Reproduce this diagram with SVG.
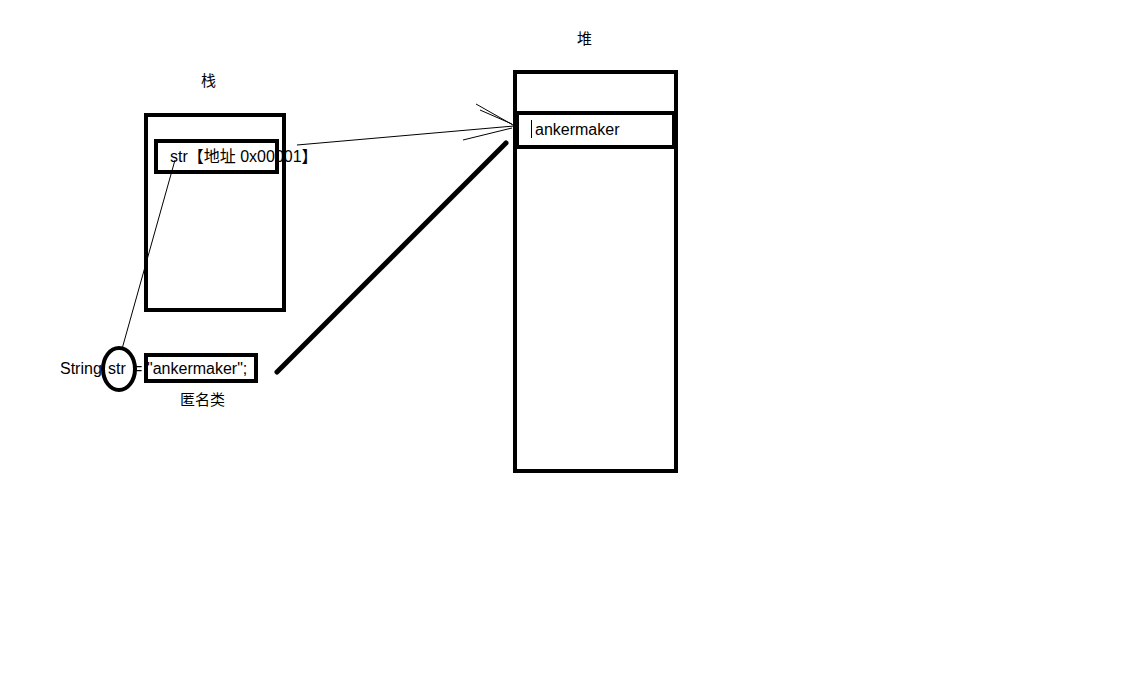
<svg xmlns="http://www.w3.org/2000/svg" width="1124" height="683" viewBox="0 0 1124 683">
<style>
.box{fill:none;stroke:#000;stroke-width:4}
.t{font-family:"Liberation Sans","Noto Sans CJK SC",sans-serif;font-size:15px;fill:#000}
.c{font-size:16px}
.thin{stroke:#000;stroke-width:1;fill:none}
</style>
<rect width="1124" height="683" fill="#fff"/>
<g id="stack-label"><text class="t" x="201" y="86">栈</text></g>
<g id="heap-label"><text class="t" x="577" y="44">堆</text></g>
<g id="stack">
<rect class="box" x="146" y="115" width="138" height="195"/>
</g>
<g id="stack-var">
<rect class="box" x="156" y="141" width="121" height="31"/>
<text class="t c" x="170" y="162">str【地址 0x00001】</text>
</g>
<g id="heap">
<rect class="box" x="515" y="72" width="161" height="399"/>
</g>
<g id="heap-obj">
<rect class="box" x="517" y="113" width="157" height="34"/>
<line x1="531.5" y1="120" x2="531.5" y2="138" stroke="#000" stroke-width="1"/>
<text class="t c" x="535" y="135">ankermaker</text>
</g>
<g id="code">
<text class="t c" x="60" y="374">String</text>
<text class="t c" x="108" y="374">str</text>
<text class="t c" x="133" y="374">=</text>
<text class="t c" x="147" y="374">"ankermaker";</text>
<ellipse class="box" cx="119" cy="369" rx="16" ry="21"/>
<rect class="box" x="146" y="355" width="110" height="26"/>
<text class="t" x="180" y="405">匿名类</text>
</g>
<g id="connectors">
<line class="thin" x1="297" y1="145" x2="514" y2="126"/>
<line class="thin" x1="476" y1="104" x2="513" y2="125"/>
<line class="thin" x1="480" y1="110" x2="512" y2="124"/>
<line class="thin" x1="463" y1="140" x2="512" y2="128"/>
<line class="thin" x1="175" y1="160" x2="122" y2="349"/>
<line x1="277" y1="372" x2="506" y2="143" stroke="#000" stroke-width="5" stroke-linecap="round"/>
</g>
</svg>
